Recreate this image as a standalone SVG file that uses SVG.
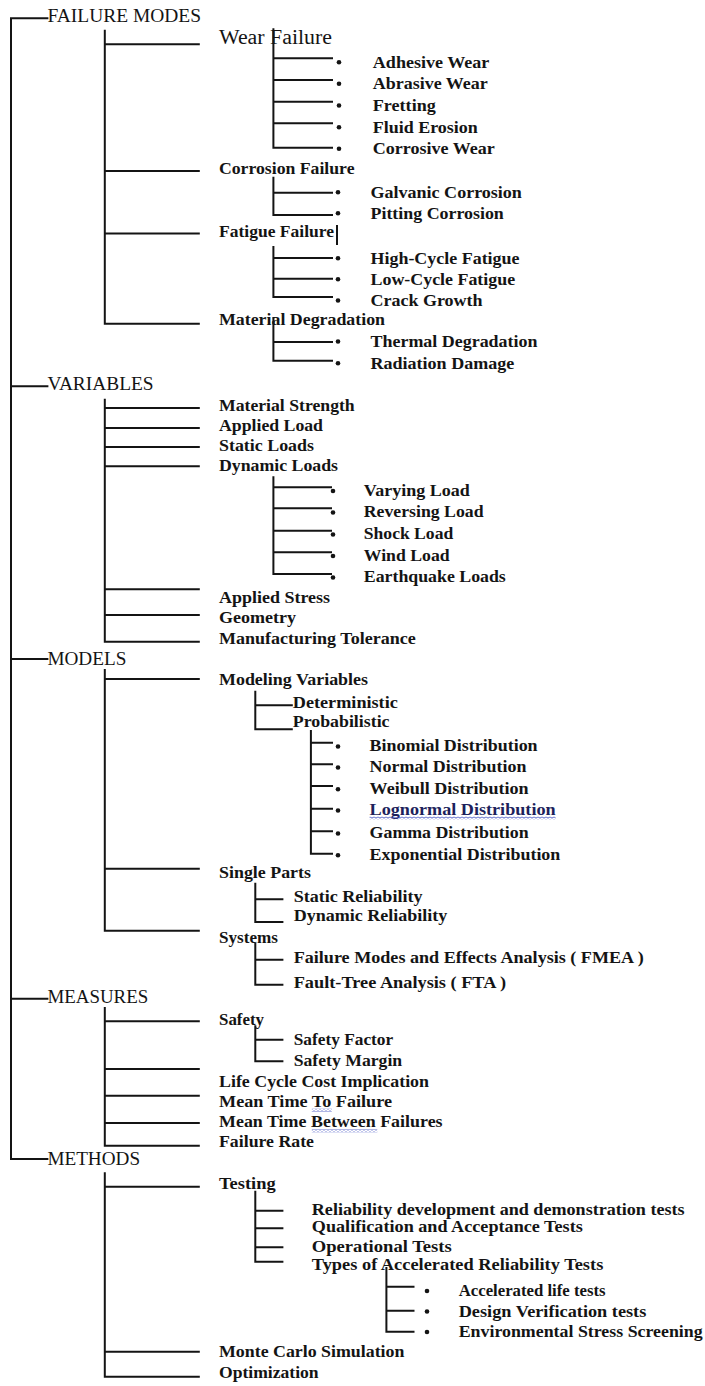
<svg xmlns="http://www.w3.org/2000/svg" width="705" height="1386" viewBox="0 0 705 1386">
<style>
text{font-family:"Liberation Serif","Times New Roman",serif;fill:#141414}
.h{font-size:18px}
.w{font-size:20px}
.t{font-size:17px;font-weight:bold}
.ln{fill:#1d1f5c}
.c{stroke:#141414;stroke-width:2;fill:none;stroke-linecap:square}
.b{fill:#141414}
</style>
<defs>
<pattern id="wavy" width="4" height="3" patternUnits="userSpaceOnUse">
<path d="M0 2.2 L2 0.8 L4 2.2" stroke="#3b4cc0" stroke-width="0.9" fill="none"/>
</pattern>
</defs>
<rect width="705" height="1386" fill="#fff"/>
<g id="connectors" class="c">
<path d="M11 18.3 V1159 M11 18.3 H47.4 M11 386.3 H47.4 M11 659 H47.4 M11 998.7 H47.4 M11 1159 H47.4"/>
<path d="M104.8 30.7 V323.7 M104.8 44.3 H198.8 M104.8 171 H198.8 M104.8 233.5 H198.8 M104.8 323.7 H198.8"/>
<path d="M104.8 399.7 V641.7 M104.8 408 H198.8 M104.8 428 H198.8 M104.8 447 H198.8 M104.8 466.3 H198.8 M104.8 589.3 H198.8 M104.8 615 H198.8 M104.8 641.7 H198.8"/>
<path d="M104.8 670 V930.7 M104.8 679 H198.8 M104.8 868.7 H198.8 M104.8 930.7 H198.8"/>
<path d="M104.8 1008 V1145.7 M104.8 1021.3 H198.8 M104.8 1069 H198.8 M104.8 1095.7 H198.8 M104.8 1123 H198.8 M104.8 1145.7 H198.8"/>
<path d="M104.8 1173.3 V1376.7 M104.8 1186.7 H198.8 M104.8 1351.7 H198.8 M104.8 1376.7 H198.8"/>
<path d="M273.4 29.3 V147.7 M273.4 58.3 H332 M273.4 80 H332 M273.4 101.7 H332 M273.4 123.3 H332 M273.4 147.7 H332"/>
<path d="M273.4 177.7 V215 M273.4 192.7 H332 M273.4 215 H332"/>
<path d="M273.4 247 V297 M273.4 258 H332 M273.4 278.7 H332 M273.4 297 H332"/>
<path d="M337 226 V244"/>
<path d="M273.4 318 V360.7 M273.4 342 H332 M273.4 360.7 H332"/>
<path d="M273.4 477.3 V574 M273.4 487.3 H331 M273.4 508.3 H331 M273.4 530.7 H331 M273.4 552.3 H331 M273.4 574 H331"/>
<path d="M255.3 691.7 V729.3 M255.3 705.3 H291.8 M255.3 729.3 H291.8"/>
<path d="M310.9 731 V853.7 M310.9 742.7 H332 M310.9 764.3 H332 M310.9 786 H332 M310.9 808.7 H332 M310.9 831.3 H332 M310.9 853.7 H332"/>
<path d="M255.3 883.7 V922 M255.3 899.3 H282.4 M255.3 922 H282.4"/>
<path d="M255.3 944 V984.7 M255.3 959.7 H282.4 M255.3 984.7 H282.4"/>
<path d="M255.3 1026.3 V1061.3 M255.3 1039.7 H282.4 M255.3 1061.3 H282.4"/>
<path d="M255.3 1191.7 V1261.7 M255.3 1210.7 H282.4 M255.3 1228.3 H282.4 M255.3 1247.3 H282.4 M255.3 1261.7 H282.4"/>
<path d="M386.4 1268 V1331.7 M386.4 1286.7 H413.5 M386.4 1310.7 H413.5 M386.4 1331.7 H413.5"/>
</g>
<g id="n-failure-modes"><text class="h" x="47.4" y="22" textLength="153.6" lengthAdjust="spacingAndGlyphs">FAILURE MODES</text></g>
<g id="n-wear-failure"><text class="w" x="219" y="43.5" textLength="113" lengthAdjust="spacingAndGlyphs">Wear Failure</text></g>
<g id="n-adhesive-wear"><circle class="b" cx="339" cy="62.2" r="2.3"/><text class="t" x="372.8" y="67.7" textLength="116.6" lengthAdjust="spacingAndGlyphs">Adhesive Wear</text></g>
<g id="n-abrasive-wear"><circle class="b" cx="339" cy="83.8" r="2.3"/><text class="t" x="372.8" y="89.3" textLength="115" lengthAdjust="spacingAndGlyphs">Abrasive Wear</text></g>
<g id="n-fretting"><circle class="b" cx="339" cy="105.5" r="2.3"/><text class="t" x="372.8" y="111" textLength="63" lengthAdjust="spacingAndGlyphs">Fretting</text></g>
<g id="n-fluid-erosion"><circle class="b" cx="339" cy="127.2" r="2.3"/><text class="t" x="372.8" y="132.7" textLength="105" lengthAdjust="spacingAndGlyphs">Fluid Erosion</text></g>
<g id="n-corrosive-wear"><circle class="b" cx="339" cy="148.8" r="2.3"/><text class="t" x="372.8" y="154.3" textLength="122" lengthAdjust="spacingAndGlyphs">Corrosive Wear</text></g>
<g id="n-corrosion-failure"><text class="t" x="219" y="174.3" textLength="135.5" lengthAdjust="spacingAndGlyphs">Corrosion Failure</text></g>
<g id="n-galvanic"><circle class="b" cx="338" cy="192.2" r="2.3"/><text class="t" x="370.5" y="197.7" textLength="151.4" lengthAdjust="spacingAndGlyphs">Galvanic Corrosion</text></g>
<g id="n-pitting"><circle class="b" cx="338" cy="213.2" r="2.3"/><text class="t" x="370.5" y="218.7" textLength="133.3" lengthAdjust="spacingAndGlyphs">Pitting Corrosion</text></g>
<g id="n-fatigue-failure"><text class="t" x="219" y="237" textLength="115" lengthAdjust="spacingAndGlyphs">Fatigue Failure</text></g>
<g id="n-high-cycle"><circle class="b" cx="338" cy="258.2" r="2.3"/><text class="t" x="370.5" y="263.7" textLength="149" lengthAdjust="spacingAndGlyphs">High-Cycle Fatigue</text></g>
<g id="n-low-cycle"><circle class="b" cx="338" cy="279.2" r="2.3"/><text class="t" x="370.5" y="284.7" textLength="144.6" lengthAdjust="spacingAndGlyphs">Low-Cycle Fatigue</text></g>
<g id="n-crack-growth"><circle class="b" cx="338" cy="300.5" r="2.3"/><text class="t" x="370.5" y="306" textLength="112" lengthAdjust="spacingAndGlyphs">Crack Growth</text></g>
<g id="n-material-degradation"><text class="t" x="219" y="325.3" textLength="166" lengthAdjust="spacingAndGlyphs">Material Degradation</text></g>
<g id="n-thermal"><circle class="b" cx="338" cy="341.5" r="2.3"/><text class="t" x="370.5" y="347" textLength="167" lengthAdjust="spacingAndGlyphs">Thermal Degradation</text></g>
<g id="n-radiation"><circle class="b" cx="338" cy="363.2" r="2.3"/><text class="t" x="370.5" y="368.7" textLength="143.7" lengthAdjust="spacingAndGlyphs">Radiation Damage</text></g>
<g id="n-variables"><text class="h" x="47.4" y="390" textLength="106.2" lengthAdjust="spacingAndGlyphs">VARIABLES</text></g>
<g id="n-material-strength"><text class="t" x="219" y="411.3" textLength="135.7" lengthAdjust="spacingAndGlyphs">Material Strength</text></g>
<g id="n-applied-load"><text class="t" x="219" y="431.3" textLength="104" lengthAdjust="spacingAndGlyphs">Applied Load</text></g>
<g id="n-static-loads"><text class="t" x="219" y="451.3" textLength="95" lengthAdjust="spacingAndGlyphs">Static Loads</text></g>
<g id="n-dynamic-loads"><text class="t" x="219" y="470.7" textLength="119" lengthAdjust="spacingAndGlyphs">Dynamic Loads</text></g>
<g id="n-varying"><circle class="b" cx="333" cy="491" r="2.3"/><text class="t" x="363.8" y="495.7" textLength="106" lengthAdjust="spacingAndGlyphs">Varying Load</text></g>
<g id="n-reversing"><circle class="b" cx="333" cy="512.5" r="2.3"/><text class="t" x="363.8" y="517.3" textLength="119.7" lengthAdjust="spacingAndGlyphs">Reversing Load</text></g>
<g id="n-shock"><circle class="b" cx="333" cy="534.5" r="2.3"/><text class="t" x="363.8" y="539" textLength="89.4" lengthAdjust="spacingAndGlyphs">Shock Load</text></g>
<g id="n-wind"><circle class="b" cx="333" cy="556" r="2.3"/><text class="t" x="363.8" y="560.7" textLength="85.8" lengthAdjust="spacingAndGlyphs">Wind Load</text></g>
<g id="n-earthquake"><circle class="b" cx="333" cy="577.5" r="2.3"/><text class="t" x="363.8" y="582" textLength="142" lengthAdjust="spacingAndGlyphs">Earthquake Loads</text></g>
<g id="n-applied-stress"><text class="t" x="219" y="602.7" textLength="111" lengthAdjust="spacingAndGlyphs">Applied Stress</text></g>
<g id="n-geometry"><text class="t" x="219" y="622.5" textLength="77" lengthAdjust="spacingAndGlyphs">Geometry</text></g>
<g id="n-manufacturing"><text class="t" x="219" y="644" textLength="196.7" lengthAdjust="spacingAndGlyphs">Manufacturing Tolerance</text></g>
<g id="n-models"><text class="h" x="47.4" y="665" textLength="79" lengthAdjust="spacingAndGlyphs">MODELS</text></g>
<g id="n-modeling-variables"><text class="t" x="219" y="685" textLength="149" lengthAdjust="spacingAndGlyphs">Modeling Variables</text></g>
<g id="n-deterministic"><text class="t" x="292.8" y="707.7" textLength="105" lengthAdjust="spacingAndGlyphs">Deterministic</text></g>
<g id="n-probabilistic"><text class="t" x="292.8" y="726.7" textLength="96.7" lengthAdjust="spacingAndGlyphs">Probabilistic</text></g>
<g id="n-binomial"><circle class="b" cx="338" cy="746.5" r="2.3"/><text class="t" x="369.6" y="751" textLength="168" lengthAdjust="spacingAndGlyphs">Binomial Distribution</text></g>
<g id="n-normal"><circle class="b" cx="338" cy="767.5" r="2.3"/><text class="t" x="369.6" y="772" textLength="156.8" lengthAdjust="spacingAndGlyphs">Normal Distribution</text></g>
<g id="n-weibull"><circle class="b" cx="338" cy="789.2" r="2.3"/><text class="t" x="369.6" y="793.7" textLength="159" lengthAdjust="spacingAndGlyphs">Weibull Distribution</text></g>
<g id="n-lognormal"><circle class="b" cx="338" cy="810.5" r="2.3"/><text class="t ln" x="369.6" y="815" textLength="186" lengthAdjust="spacingAndGlyphs">Lognormal Distribution</text><rect x="369.6" y="816.5" width="186" height="3" fill="url(#wavy)"/></g>
<g id="n-gamma"><circle class="b" cx="338" cy="833.5" r="2.3"/><text class="t" x="369.6" y="838" textLength="159" lengthAdjust="spacingAndGlyphs">Gamma Distribution</text></g>
<g id="n-exponential"><circle class="b" cx="338" cy="855.2" r="2.3"/><text class="t" x="369.6" y="859.7" textLength="190.7" lengthAdjust="spacingAndGlyphs">Exponential Distribution</text></g>
<g id="n-single-parts"><text class="t" x="219" y="878" textLength="92" lengthAdjust="spacingAndGlyphs">Single Parts</text></g>
<g id="n-static-reliability"><text class="t" x="293.7" y="902" textLength="128.8" lengthAdjust="spacingAndGlyphs">Static Reliability</text></g>
<g id="n-dynamic-reliability"><text class="t" x="293.7" y="921" textLength="153.7" lengthAdjust="spacingAndGlyphs">Dynamic Reliability</text></g>
<g id="n-systems"><text class="t" x="219" y="943" textLength="59" lengthAdjust="spacingAndGlyphs">Systems</text></g>
<g id="n-fmea"><text class="t" x="293.7" y="963" textLength="350" lengthAdjust="spacingAndGlyphs">Failure Modes and Effects Analysis ( FMEA )</text></g>
<g id="n-fta"><text class="t" x="293.7" y="988" textLength="212.4" lengthAdjust="spacingAndGlyphs">Fault-Tree Analysis ( FTA )</text></g>
<g id="n-measures"><text class="h" x="47.4" y="1003" textLength="100.8" lengthAdjust="spacingAndGlyphs">MEASURES</text></g>
<g id="n-safety"><text class="t" x="219" y="1024.7" textLength="45" lengthAdjust="spacingAndGlyphs">Safety</text></g>
<g id="n-safety-factor"><text class="t" x="293.7" y="1045" textLength="99.5" lengthAdjust="spacingAndGlyphs">Safety Factor</text></g>
<g id="n-safety-margin"><text class="t" x="293.7" y="1065.7" textLength="108.5" lengthAdjust="spacingAndGlyphs">Safety Margin</text></g>
<g id="n-life-cycle"><text class="t" x="219" y="1086.7" textLength="210" lengthAdjust="spacingAndGlyphs">Life Cycle Cost Implication</text></g>
<g id="n-mttf"><text class="t" x="219" y="1106.7" textLength="173" lengthAdjust="spacingAndGlyphs">Mean Time To Failure</text><rect x="311.8" y="1108.7" width="20" height="3" fill="url(#wavy)"/></g>
<g id="n-mtbf"><text class="t" x="219" y="1127.3" textLength="223.6" lengthAdjust="spacingAndGlyphs">Mean Time Between Failures</text><rect x="311.8" y="1129.3" width="65.5" height="3" fill="url(#wavy)"/></g>
<g id="n-failure-rate"><text class="t" x="219" y="1147.3" textLength="95" lengthAdjust="spacingAndGlyphs">Failure Rate</text></g>
<g id="n-methods"><text class="h" x="47.4" y="1165" textLength="92.7" lengthAdjust="spacingAndGlyphs">METHODS</text></g>
<g id="n-testing"><text class="t" x="219" y="1189.3" textLength="56.6" lengthAdjust="spacingAndGlyphs">Testing</text></g>
<g id="n-reliability-dev"><text class="t" x="311.8" y="1215" textLength="372.8" lengthAdjust="spacingAndGlyphs">Reliability development and demonstration tests</text></g>
<g id="n-qualification"><text class="t" x="311.8" y="1231.7" textLength="271" lengthAdjust="spacingAndGlyphs">Qualification and Acceptance Tests</text></g>
<g id="n-operational"><text class="t" x="311.8" y="1251.7" textLength="140" lengthAdjust="spacingAndGlyphs">Operational Tests</text></g>
<g id="n-types"><text class="t" x="311.8" y="1270" textLength="291.5" lengthAdjust="spacingAndGlyphs">Types of Accelerated Reliability Tests</text></g>
<g id="n-accelerated-life"><circle class="b" cx="427" cy="1291" r="2.3"/><text class="t" x="458.7" y="1296" textLength="146.9" lengthAdjust="spacingAndGlyphs">Accelerated life tests</text></g>
<g id="n-design-verification"><circle class="b" cx="427" cy="1311.5" r="2.3"/><text class="t" x="458.7" y="1316.7" textLength="187.6" lengthAdjust="spacingAndGlyphs">Design Verification tests</text></g>
<g id="n-ess"><circle class="b" cx="427" cy="1332" r="2.3"/><text class="t" x="458.7" y="1336.7" textLength="244" lengthAdjust="spacingAndGlyphs">Environmental Stress Screening</text></g>
<g id="n-monte-carlo"><text class="t" x="219" y="1356.7" textLength="185.4" lengthAdjust="spacingAndGlyphs">Monte Carlo Simulation</text></g>
<g id="n-optimization"><text class="t" x="219" y="1378.3" textLength="99.6" lengthAdjust="spacingAndGlyphs">Optimization</text></g>
</svg>
